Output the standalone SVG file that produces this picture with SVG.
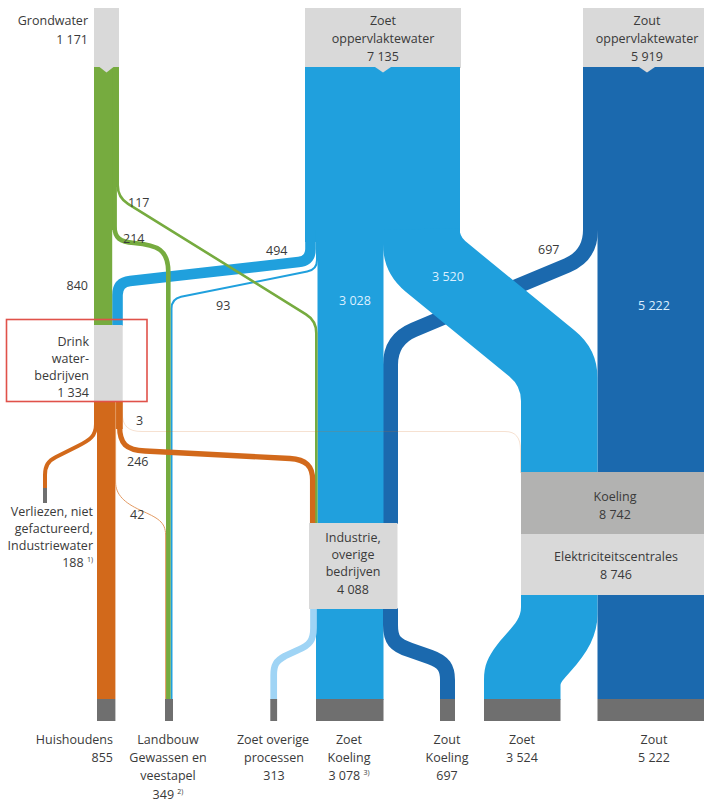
<svg xmlns="http://www.w3.org/2000/svg" width="704" height="802" viewBox="0 0 704 802">
  <style>
    text { font-family: "Open Sans", "Noto Sans", "Liberation Sans", sans-serif; font-size: 12.5px; fill: #3a3a3a; }
    .r { text-anchor: end; }
    .m { text-anchor: middle; }
    .w { fill: #dcefff; }
    .sup { font-size: 7px; }
    .box { fill: #d9d9d9; }
    .sink { fill: #6f6f6f; }
    .zoet { fill: #20a0dd; }
    .zout { fill: #1b69ae; }
    .green { fill: #76ab3f; }
    .f { fill: none; stroke-linecap: butt; stroke-linejoin: round; }
  </style>

  <rect width="704" height="802" fill="#ffffff"/>

  <!-- source blocks -->
  <g id="grondwater">
    <rect class="box" x="94" y="8" width="25" height="60"/>
  </g>
  <g id="zoet-oppervlaktewater">
    <rect class="box" x="305" y="8" width="156" height="60"/>
  </g>
  <g id="zout-oppervlaktewater">
    <rect class="box" x="583" y="8" width="121" height="60"/>
  </g>

  <g id="connectors">
    <!-- salt water: main column to cooling and the 697 branch to industry -->
    <rect class="zout" x="597.5" y="67" width="106.5" height="632"/>
    <path class="f" stroke="#1b69ae" stroke-width="15" d="M590.5 67 V230 Q590.5 255.5 567.3 265.3 L413.7 329.8 Q390.5 339.5 390.5 364.7 V524"/>

    <!-- fresh surface water -->
    <rect class="zoet" x="305" y="67" width="155" height="175"/>
    <rect class="zoet" x="317.5" y="230" width="66" height="294"/>
    <path class="zoet" d="M383 230 V244 Q383 273 405.4 291.4 L509.4 376.5 Q521 386 521 401 V473 H597.5 V378 Q597.5 349 574.6 330.6 L465.2 241.1 Q459.5 236 459.5 228 Z"/>
    <path class="f" stroke="#20a0dd" stroke-width="10.6" d="M310.5 230 V249 Q310.5 260.8 298.6 262.1 L130 281.1 Q117.5 282.5 117.5 295 V326"/>
    <path class="f" stroke="#20a0dd" stroke-width="2" d="M317 230 V260 Q317 269.6 307.2 271.6 L181 296.8 Q171.5 298.8 171.5 308.8 V700"/>

    <!-- groundwater: column narrows as the 117 and 214 branches leave -->
    <rect class="green" x="94" y="67" width="25" height="120"/>
    <rect class="green" x="94" y="67" width="22.5" height="163"/>
    <rect class="green" x="94" y="67" width="18.2" height="259"/>
    <path class="f" stroke="#76ab3f" stroke-width="4.6" d="M114.5 180 V226 C114.5 238 120 242 134 243 C158 245 168.3 250 168.3 272 V700"/>
    <path class="f" stroke="#76ab3f" stroke-width="2.6" d="M117.7 150 V185 Q117.7 197.5 128 203.8 L306 314.3 Q316.3 320.6 316.3 333 V524"/>

    <!-- drinking water distribution -->
    <path class="f" stroke="#d2691b" stroke-width="1" stroke-opacity="0.2" d="M122.2 402 V412 C122.2 426 128 431.5 142 431.5 H505 C516 431.5 520.5 438 520.5 450 V473"/>
    <rect x="94" y="401" width="28.7" height="28" fill="#d2691b"/>
    <rect x="97" y="401" width="18.4" height="298" fill="#d2691b"/>
    <path class="f" stroke="#d2691b" stroke-width="4" d="M96 402 V424 C96 436 90 440 78 446 L56 457 C48 461 45 466 45 475 V489"/>
    <path class="f" stroke="#d2691b" stroke-width="5.3" d="M119.6 402 V426 C119.6 444 126 450 145 451 L290 458.5 C306 459.5 312.6 466 312.6 480 V524"/>
    <path class="f" stroke="#e39a62" stroke-width="1" d="M115.6 402 V482 C115.6 495 125 503 140 510 C158 518 165.6 522 165.6 535 V700"/>

    <!-- industry outflows -->
    <rect class="zoet" x="316" y="608" width="67.5" height="92"/>
    <path class="f" stroke="#9fd4f5" stroke-width="6.7" d="M313.5 608 V628 C313.5 640 310 645 298 650 L285 656 C276 661 273.7 665 273.7 675 V700"/>
    <path class="f" stroke="#1b69ae" stroke-width="15" d="M390.5 608 V625 C390.5 640 395 645 410 650 L430 657 C444 662 447.5 668 447.5 680 V700"/>

    <!-- power plant outflow of fresh water -->
    <path class="zoet" d="M521 594 V607 C521 622 508 630 497 645 C488 657 484 665 484 680 V700 H560.5 V686 C560.5 682 563 680 570 672 C588 652 597.5 635 597.5 614 V594 Z"/>
  </g>

  <!-- inflow notches under the source blocks -->
  <path class="box" d="M99.5 67 H113.5 L106.5 72.5 Z"/>
  <path class="box" d="M375 67 H391 L383 72.5 Z"/>
  <path class="box" d="M639 67 H655 L647 72.5 Z"/>

  <!-- intermediate nodes -->
  <g id="drinkwaterbedrijven">
    <rect class="box" x="94" y="325" width="28.7" height="77"/>
  </g>
  <g id="industrie">
    <rect class="box" x="309" y="523" width="88.5" height="86"/>
  </g>
  <g id="koeling">
    <rect x="521" y="472" width="183" height="62" fill="#b2b2b1"/>
  </g>
  <g id="elektriciteitscentrales">
    <rect class="box" x="521" y="534" width="183" height="61"/>
  </g>

  <!-- sinks -->
  <g id="verliezen"><rect class="sink" x="43" y="488" width="4" height="15"/></g>
  <g id="huishoudens"><rect class="sink" x="97" y="699" width="18.4" height="22"/></g>
  <g id="landbouw"><rect class="sink" x="165" y="699" width="8" height="22"/></g>
  <g id="zoet-overige-processen"><rect class="sink" x="270.3" y="699" width="6.8" height="22"/></g>
  <g id="zoet-koeling"><rect class="sink" x="316" y="699" width="67.5" height="22"/></g>
  <g id="zout-koeling"><rect class="sink" x="440" y="699" width="15" height="22"/></g>
  <g id="zoet"><rect class="sink" x="484" y="699" width="76.5" height="22"/></g>
  <g id="zout"><rect class="sink" x="597.5" y="699" width="106.5" height="22"/></g>

  <!-- highlight frame -->
  <rect x="6.5" y="319.5" width="140.5" height="82" fill="none" stroke="#e0524a" stroke-width="1.6"/>

  <!-- labels -->
  <text class="r" x="88" y="25">Grondwater</text>
  <text class="r" x="88" y="44">1 171</text>
  <text class="m" x="383" y="25">Zoet</text>
  <text class="m" x="383" y="43">oppervlaktewater</text>
  <text class="m" x="383" y="61">7 135</text>
  <text class="m" x="647" y="25">Zout</text>
  <text class="m" x="647" y="43">oppervlaktewater</text>
  <text class="m" x="647" y="61">5 919</text>

  <text x="128" y="207">117</text>
  <text x="123" y="243">214</text>
  <text x="266" y="255">494</text>
  <text x="216" y="310">93</text>
  <text class="r" x="88" y="290">840</text>
  <text class="m w" x="355" y="305">3 028</text>
  <text class="m w" x="448" y="281">3 520</text>
  <text x="538" y="254">697</text>
  <text class="m w" x="654" y="310">5 222</text>

  <text class="r" x="89" y="346">Drink</text>
  <text class="r" x="89" y="363">water-</text>
  <text class="r" x="89" y="380">bedrijven</text>
  <text class="r" x="89" y="397">1 334</text>

  <text x="136" y="425">3</text>
  <text x="127" y="466">246</text>
  <text x="130" y="519">42</text>

  <text class="r" x="93" y="516">Verliezen, niet</text>
  <text class="r" x="93" y="533">gefactureerd,</text>
  <text class="r" x="93" y="550">Industriewater</text>
  <text class="r" x="93" y="567">188 <tspan class="sup" dy="-5">1)</tspan></text>

  <text class="m" x="353" y="542">Industrie,</text>
  <text class="m" x="353" y="559">overige</text>
  <text class="m" x="353" y="576">bedrijven</text>
  <text class="m" x="353" y="594">4 088</text>

  <text class="m" x="615" y="501">Koeling</text>
  <text class="m" x="615" y="519">8 742</text>
  <text class="m" x="616" y="561">Elektriciteitscentrales</text>
  <text class="m" x="616" y="579">8 746</text>

  <text class="r" x="113" y="744">Huishoudens</text>
  <text class="r" x="113" y="762">855</text>
  <text class="m" x="168" y="744">Landbouw</text>
  <text class="m" x="168" y="762">Gewassen en</text>
  <text class="m" x="168" y="780">veestapel</text>
  <text class="m" x="168" y="799">349 <tspan class="sup" dy="-5">2)</tspan></text>
  <text class="m" x="273" y="744">Zoet overige</text>
  <text class="m" x="274" y="762">processen</text>
  <text class="m" x="274" y="780">313</text>
  <text class="m" x="349" y="744">Zoet</text>
  <text class="m" x="349" y="762">Koeling</text>
  <text class="m" x="349" y="780">3 078 <tspan class="sup" dy="-5">3)</tspan></text>
  <text class="m" x="447" y="744">Zout</text>
  <text class="m" x="447" y="762">Koeling</text>
  <text class="m" x="447" y="780">697</text>
  <text class="m" x="522" y="744">Zoet</text>
  <text class="m" x="522" y="762">3 524</text>
  <text class="m" x="654" y="744">Zout</text>
  <text class="m" x="654" y="762">5 222</text>
</svg>
